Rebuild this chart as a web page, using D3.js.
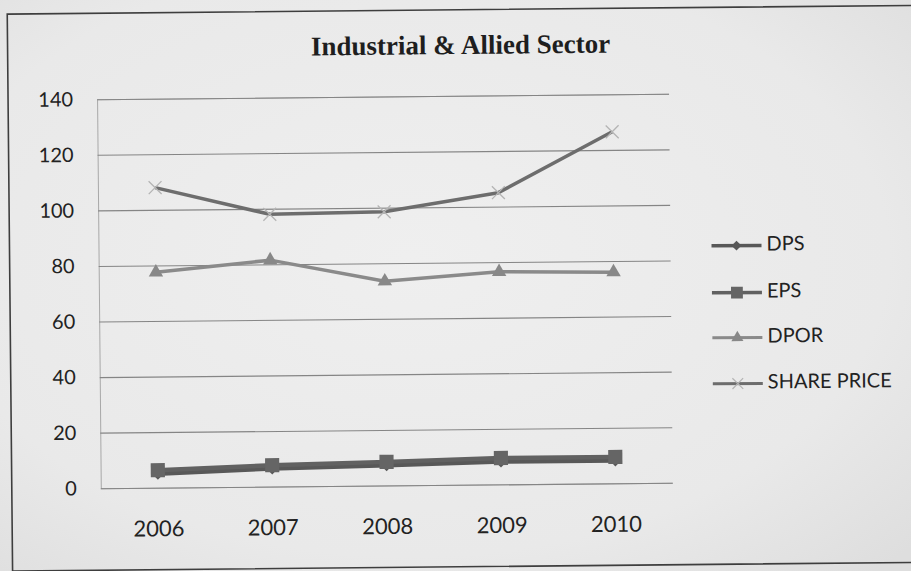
<!DOCTYPE html>
<html>
<head>
<meta charset="utf-8">
<script src="https://cdn.jsdelivr.net/npm/d3@7"></script>
<style>
  html, body { margin: 0; padding: 0; background: #e8e8e8; }
  svg { display: block; }
</style>
</head>
<body>
<svg id="chart" width="911" height="571"></svg>
<script>
// Industrial & Allied Sector: per-share figures by year
const years = ["2006", "2007", "2008", "2009", "2010"];
const dps = [5, 6.5, 7.3, 8.2, 8.2];
const eps = [6.3, 7.7, 8.5, 9.5, 9.5];
const dpor = [77.5, 81.5, 73.5, 76.5, 76];
const sharePrice = [108, 98, 98.5, 105, 126.5];
const yTicks = [0, 20, 40, 60, 80, 100, 120, 140];

const seriesNames = ["DPS", "EPS", "DPOR", "SHARE PRICE"];
const seriesValues = [dps, eps, dpor, sharePrice];

const W = 911, H = 571;
const svg = d3.select("#chart");

// soft paper-like background
const defs = svg.append("defs");
const grad = defs.append("radialGradient").attr("id", "paper")
  .attr("cx", "45%").attr("cy", "45%").attr("r", "75%");
grad.append("stop").attr("offset", "0%").attr("stop-color", "#efefef");
grad.append("stop").attr("offset", "70%").attr("stop-color", "#e9e9e9");
grad.append("stop").attr("offset", "100%").attr("stop-color", "#dedede");
svg.append("rect").attr("width", W).attr("height", H).attr("fill", "url(#paper)");

// the printed page sits very slightly askew
const root = svg.append("g").attr("transform", "rotate(-0.55, 385, 300)");

// chart frame (continues past the right edge)
root.append("rect")
  .attr("x", 10).attr("y", 10.5).attr("width", 960).attr("height", 557)
  .attr("fill", "none").attr("stroke", "#3e3e3e").attr("stroke-width", 1.6);

const plot = { left: 99, right: 671, top: 96.5, bottom: 485.5 };

const x = d3.scalePoint().domain(years).range([plot.left, plot.right]).padding(0.5);
const y = d3.scaleLinear().domain([0, 140]).range([plot.bottom, plot.top]);

// title
root.append("text")
  .attr("x", 463).attr("y", 48.5)
  .attr("text-anchor", "middle").attr("dominant-baseline", "middle")
  .attr("font-family", "'Liberation Serif', 'DejaVu Serif', serif")
  .attr("font-weight", "bold").attr("font-size", 27)
  .attr("fill", "#1e1e1e")
  .text("Industrial & Allied Sector");

// horizontal gridlines + y labels
const yAxis = d3.axisLeft(y).tickValues(yTicks).tickSize(-(plot.right - plot.left)).tickPadding(24);
const gy = root.append("g").attr("transform", `translate(${plot.left},0)`).call(yAxis);
gy.select(".domain").attr("stroke", "#a8a8a8").attr("stroke-width", 1);
gy.selectAll(".tick line").attr("stroke", "#858585").attr("stroke-width", 1.1);
gy.selectAll(".tick text")
  .attr("font-family", "Lato, 'Open Sans', sans-serif").attr("font-size", 20)
  .attr("fill", "#222");

// x labels
const xAxis = d3.axisBottom(x).tickSize(0).tickPadding(0);
const gx = root.append("g").attr("transform", `translate(0,${plot.bottom})`).call(xAxis);
gx.select(".domain").remove();
gx.selectAll(".tick text")
  .attr("y", 43).attr("dy", 0).attr("dominant-baseline", "middle")
  .attr("font-family", "Lato, 'Open Sans', sans-serif").attr("font-size", 22)
  .attr("fill", "#222");

// series styling
const styles = [
  { line: "#585858", width: 4.5, legendWidth: 3.5, marker: d3.symbolSquare, size: 70, rotate: 45, fill: "#585858", stroke: "none" },
  { line: "#616161", width: 4.5, legendWidth: 3.5, marker: d3.symbolSquare, size: 200, rotate: 0, fill: "#656565", stroke: "none" },
  { line: "#8a8a8a", width: 3.5, legendWidth: 3, marker: d3.symbolTriangle, size: 90, rotate: 0, fill: "#888888", stroke: "none" },
  { line: "#6d6d6d", width: 3.5, legendWidth: 3, marker: d3.symbolTimes, size: 110, rotate: 0, fill: "none", stroke: "#b4b4b4" }
];

const line = d3.line().x((d, i) => x(years[i])).y(d => y(d));

seriesValues.forEach((vals, si) => {
  const st = styles[si];
  const g = root.append("g");
  g.append("path").datum(vals)
    .attr("d", line).attr("fill", "none")
    .attr("stroke", st.line).attr("stroke-width", st.width)
    .attr("stroke-linejoin", "round");
  g.selectAll("path.mk").data(vals).join("path").attr("class", "mk")
    .attr("d", d3.symbol(st.marker, st.size))
    .attr("transform", (d, i) => `translate(${x(years[i])},${y(d)}) rotate(${st.rotate})`)
    .attr("fill", st.fill).attr("stroke", st.stroke).attr("stroke-width", 1.3);
});

// legend
const legend = root.append("g");
const legendY = [249, 296, 341, 387];
seriesNames.forEach((name, si) => {
  const st = styles[si];
  const ly = legendY[si];
  legend.append("line")
    .attr("x1", 712).attr("x2", 762).attr("y1", ly).attr("y2", ly)
    .attr("stroke", st.line).attr("stroke-width", st.legendWidth);
  legend.append("path")
    .attr("d", d3.symbol(st.marker, st.size * 0.7))
    .attr("transform", `translate(737,${ly}) rotate(${st.rotate})`)
    .attr("fill", st.fill).attr("stroke", st.stroke).attr("stroke-width", 1.2);
  legend.append("text")
    .attr("x", 767).attr("y", ly).attr("dominant-baseline", "middle")
    .attr("font-family", "Lato, 'Open Sans', sans-serif").attr("font-size", 20)
    .attr("fill", "#222")
    .text(name);
});
</script>
</body>
</html>
